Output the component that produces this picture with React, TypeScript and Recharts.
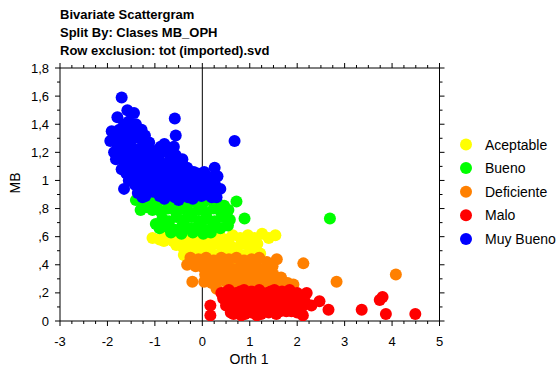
import React from 'react';
import { ScatterChart, Scatter, XAxis, YAxis, ReferenceLine } from 'recharts';

// Axis ticks
const xMajorTicks = [-3, -2, -1, 0, 1, 2, 3, 4, 5];
const xMinorTicks = [
  -2.75, -2.5, -2.25, -1.75, -1.5, -1.25, -0.75, -0.5, -0.25, 0.25, 0.5, 0.75,
  1.25, 1.5, 1.75, 2.25, 2.5, 2.75, 3.25, 3.5, 3.75, 4.25, 4.5, 4.75,
];
const yMajorTicks = [0, 0.2, 0.4, 0.6, 0.8, 1, 1.2, 1.4, 1.6, 1.8];
const yMinorTicks = [0.1, 0.3, 0.5, 0.7, 0.9, 1.1, 1.3, 1.5, 1.7];

const titleLines = ['Bivariate Scattergram', 'Split By: Clases MB_OPH', 'Row exclusion: tot (imported).svd'];

// Orth 1 / MB per class
const aceptable = [
  [-1.05, 0.59], [-0.9, 0.58], [-0.76, 0.6], [-0.62, 0.57], [-0.48, 0.6], [-0.34, 0.58], [-0.2, 0.6],
  [-0.06, 0.57], [0.08, 0.6], [0.22, 0.58], [0.36, 0.61], [0.5, 0.58], [0.64, 0.61], [0.8, 0.59],
  [0.96, 0.61], [1.1, 0.59], [1.26, 0.62], [1.54, 0.61], [1.4, 0.59],
  [-0.81, 0.57], [-0.55, 0.54], [-0.4, 0.52], [-0.26, 0.55], [-0.12, 0.52], [0.02, 0.54], [0.16, 0.52],
  [0.3, 0.55], [0.44, 0.52], [0.58, 0.54], [0.72, 0.52], [0.86, 0.55], [1.0, 0.53], [1.16, 0.55],
  [-0.39, 0.47], [-0.22, 0.48], [-0.06, 0.47], [0.1, 0.49], [0.26, 0.47], [0.42, 0.49], [0.58, 0.47],
  [0.74, 0.49], [0.9, 0.47], [1.06, 0.49], [1.22, 0.48],
  [0.0, 0.44], [0.34, 0.44], [0.66, 0.44], [0.98, 0.44],
];
const bueno = [
  [0.72, 0.85], [0.89, 0.73], [2.69, 0.73], [-1.05, 0.79], [-0.98, 0.69],
  [-1.4, 0.86], [-1.26, 0.84], [-1.12, 0.86], [-0.96, 0.83], [-0.8, 0.86], [-0.64, 0.84], [-0.48, 0.86],
  [-0.32, 0.83], [-0.16, 0.85], [0.0, 0.83], [0.16, 0.86], [0.32, 0.84], [0.46, 0.82],
  [-1.3, 0.79], [-1.16, 0.81], [-0.88, 0.78], [-0.72, 0.8], [-0.56, 0.78], [-0.4, 0.8], [-0.24, 0.77],
  [-0.08, 0.79], [0.08, 0.77], [0.24, 0.8], [0.4, 0.77], [0.55, 0.79],
  [-0.84, 0.73], [-0.7, 0.71], [-0.54, 0.74], [-0.38, 0.72], [-0.22, 0.74], [-0.06, 0.71], [0.1, 0.73],
  [0.26, 0.71], [0.42, 0.74], [0.58, 0.72],
  [-0.9, 0.66], [-0.74, 0.67], [-0.58, 0.65], [-0.42, 0.68], [-0.26, 0.66], [-0.1, 0.67], [0.06, 0.65],
  [0.22, 0.67], [0.38, 0.66], [0.54, 0.68],
  [-0.66, 0.63], [-0.44, 0.62], [-0.2, 0.63], [0.02, 0.62], [0.18, 0.63],
];
const muyBueno = [
  [-1.7, 1.59], [-1.58, 1.5], [-1.44, 1.48], [-1.79, 1.45], [-1.4, 1.4], [-1.91, 1.35], [-1.94, 1.28],
  [-1.86, 1.2], [-1.82, 1.15], [-1.65, 0.94], [-1.21, 1.32], [-0.58, 1.44], [-0.56, 1.32], [0.68, 1.28],
  [-0.88, 1.24], [-0.6, 1.24], [-0.32, 1.09], [0.26, 1.09], [0.38, 0.94], [0.1, 0.98],
  [-1.75, 1.36], [-1.62, 1.33], [-1.5, 1.37], [-1.33, 1.3], [-1.12, 1.27],
  [-1.8, 1.26], [-1.66, 1.24], [-1.52, 1.27], [-1.38, 1.22], [-1.24, 1.25], [-1.02, 1.21], [-0.74, 1.2],
  [-0.98, 1.14], [-1.72, 1.17], [-1.58, 1.14], [-1.45, 1.16], [-1.3, 1.13], [-1.15, 1.17], [-0.85, 1.12],
  [-0.68, 1.15], [-0.5, 1.12],
  [-1.7, 1.08], [-1.6, 1.05], [-1.48, 1.09], [-1.34, 1.05], [-1.2, 1.08], [-1.06, 1.05], [-0.92, 1.07],
  [-0.78, 1.04], [-0.62, 1.07], [-0.46, 1.03], [-0.18, 1.06], [-0.05, 1.03], [0.18, 1.02],
  [-1.55, 1.0], [-1.42, 0.97], [-1.26, 0.99], [-1.12, 0.96], [-0.98, 0.99], [-0.84, 0.96], [-0.7, 0.98],
  [-0.56, 0.95], [-0.4, 0.98], [-0.26, 0.96], [-0.12, 0.99], [0.02, 0.95], [0.22, 0.93], [-0.86, 1.0],
  [-1.36, 0.91], [-1.2, 0.89], [-1.04, 0.92], [-0.9, 0.89], [-0.74, 0.91], [-0.58, 0.88], [-0.44, 0.91],
  [-0.3, 0.88], [-0.16, 0.91], [-0.02, 0.89], [0.12, 0.9], [0.3, 0.88],
  [-1.85, 1.31], [-1.68, 1.29], [-1.44, 1.32], [-1.28, 1.36], [-1.55, 1.42], [-1.65, 1.4],
  [-1.76, 1.21], [-1.6, 1.19], [-1.47, 1.21], [-1.31, 1.19], [-1.17, 1.22], [-1.08, 1.16], [-0.92, 1.18],
  [-0.8, 1.26], [-0.66, 1.22], [-0.56, 1.18], [-0.42, 1.15],
  [-1.64, 1.11], [-1.52, 1.12], [-1.38, 1.1], [-1.24, 1.12], [-1.1, 1.1], [-0.96, 1.1], [-0.8, 1.09],
  [-0.7, 1.1], [-0.55, 1.08], [-0.38, 1.06], [-0.25, 1.02], [-0.1, 1.05], [0.04, 1.06],
  [-1.48, 1.03], [-1.34, 1.01], [-1.19, 1.03], [-1.04, 1.01], [-0.9, 1.03], [-0.74, 1.01], [-0.6, 1.02],
  [-0.48, 0.99], [-0.32, 1.0], [-0.18, 0.98], [0.08, 1.0], [0.26, 0.98], [0.32, 1.03],
  [-1.3, 0.95], [-1.16, 0.93], [-0.94, 0.94], [-0.78, 0.93], [-0.64, 0.94], [-0.48, 0.94], [-0.34, 0.93],
  [-0.2, 0.94], [-0.06, 0.93], [0.1, 0.94],
  [-1.26, 0.88], [-0.8, 0.87], [-0.5, 0.86], [-0.2, 0.87], [0.2, 0.88],
];
const deficiente = [
  [2.13, 0.41], [2.83, 0.28], [4.08, 0.33], [1.57, 0.44], [-0.21, 0.28], [-0.32, 0.4], [-0.25, 0.45],
  [-0.08, 0.44], [0.08, 0.45], [0.24, 0.43], [0.4, 0.45], [0.56, 0.44], [0.72, 0.45], [0.88, 0.43],
  [1.04, 0.44], [1.2, 0.45], [1.36, 0.42],
  [-0.14, 0.39], [0.02, 0.38], [0.18, 0.4], [0.34, 0.38], [0.5, 0.39], [0.66, 0.37], [0.82, 0.4],
  [0.98, 0.38], [1.14, 0.39], [1.3, 0.37], [1.48, 0.39],
  [0.06, 0.33], [0.22, 0.34], [0.38, 0.32], [0.54, 0.34], [0.7, 0.32], [0.86, 0.34], [1.02, 0.32],
  [1.18, 0.34], [1.34, 0.32], [1.5, 0.33], [1.66, 0.31],
  [0.04, 0.28], [0.2, 0.27], [0.36, 0.29], [0.52, 0.27], [0.68, 0.28], [0.84, 0.27], [1.0, 0.29],
  [1.16, 0.27], [1.32, 0.28], [1.48, 0.27], [1.64, 0.28], [1.8, 0.27], [1.92, 0.26],
  [0.3, 0.23], [0.6, 0.23], [0.9, 0.23], [1.2, 0.23], [1.5, 0.23],
];
const malo = [
  [0.17, 0.11], [0.17, 0.04], [2.66, 0.08], [3.36, 0.08], [3.74, 0.15], [3.8, 0.17], [3.87, 0.05],
  [4.49, 0.05], [2.47, 0.14], [2.2, 0.2], [1.77, 0.07], [2.12, 0.04], [0.6, 0.06], [1.15, 0.04],
  [0.4, 0.2], [0.56, 0.22], [0.72, 0.2], [0.88, 0.22], [1.04, 0.21], [1.2, 0.22], [1.36, 0.2],
  [1.52, 0.22], [1.68, 0.21], [1.84, 0.22], [2.0, 0.2],
  [0.44, 0.16], [0.6, 0.15], [0.76, 0.17], [0.92, 0.15], [1.08, 0.16], [1.24, 0.14], [1.4, 0.17],
  [1.56, 0.15], [1.72, 0.16], [1.88, 0.14], [2.04, 0.16],
  [0.5, 0.11], [0.66, 0.1], [0.82, 0.09], [0.98, 0.11], [1.14, 0.09], [1.3, 0.11], [1.46, 0.1],
  [1.62, 0.11], [1.78, 0.1], [1.94, 0.11], [2.1, 0.1], [2.3, 0.11],
  [0.74, 0.06], [0.9, 0.05], [1.04, 0.06], [1.24, 0.05], [1.4, 0.06], [1.56, 0.05], [2.0, 0.06],
  [0.48, 0.2], [0.64, 0.19], [0.8, 0.21], [0.96, 0.19], [1.12, 0.2], [1.28, 0.19], [1.44, 0.21],
  [1.6, 0.19], [1.76, 0.2], [1.92, 0.19],
  [0.52, 0.14], [0.68, 0.13], [0.84, 0.13], [1.0, 0.14], [1.16, 0.13], [1.32, 0.14], [1.48, 0.13],
  [1.64, 0.14], [1.8, 0.13], [1.96, 0.14], [2.16, 0.14],
  [0.82, 0.04], [0.98, 0.07], [1.32, 0.08], [1.48, 0.08], [1.64, 0.07], [1.88, 0.07], [0.66, 0.05],
];

const groups = [
  { name: 'Aceptable', color: '#ffff00', points: aceptable },
  { name: 'Bueno', color: '#00ff00', points: bueno },
  { name: 'Deficiente', color: '#ff8000', points: deficiente },
  { name: 'Malo', color: '#ff0000', points: malo },
  { name: 'Muy Bueno', color: '#0000ff', points: muyBueno },
];
// yellow, green, blue, orange, red on top
const drawOrder = ['Aceptable', 'Bueno', 'Muy Bueno', 'Deficiente', 'Malo'];

const font = '"Liberation Sans", Arial, sans-serif';
const xTicks = [...xMajorTicks, ...xMinorTicks].sort((a, b) => a - b);
const yTicks = [...yMajorTicks, ...yMinorTicks].sort((a, b) => a - b);

const fmtY = (v: number) => {
  if (v === 0) return '0';
  const s = String(v).replace('.', ',');
  return v < 1 ? s.slice(1) : s;
};

const near = (list: number[], v: number) => list.some((t) => Math.abs(t - v) < 1e-6);

const BottomTick = ({ x, y, payload }: any) => {
  const major = near(xMajorTicks, payload.value);
  return (
    <g>
      <line x1={x} x2={x} y1={y} y2={y + (major ? 5 : 3)} stroke="#000" />
      {major && (
        <text x={x} y={y + 25} textAnchor="middle" fontSize={13} fontFamily={font} fill="#000">
          {payload.value}
        </text>
      )}
    </g>
  );
};

const TopTick = ({ x, y, payload }: any) => {
  const major = near(xMajorTicks, payload.value);
  return <line x1={x} x2={x} y1={y} y2={y - (major ? 5 : 3)} stroke="#000" />;
};

const LeftTick = ({ x, y, payload }: any) => {
  const major = near(yMajorTicks, payload.value);
  return (
    <g>
      <line x1={x} x2={x - (major ? 5 : 3)} y1={y} y2={y} stroke="#000" />
      {major && (
        <text x={x - 11} y={y + 4.5} textAnchor="end" fontSize={13} fontFamily={font} fill="#000">
          {fmtY(payload.value)}
        </text>
      )}
    </g>
  );
};

const RightTick = ({ x, y, payload }: any) => {
  const major = near(yMajorTicks, payload.value);
  return <line x1={x} x2={x + (major ? 5 : 3)} y1={y} y2={y} stroke="#000" />;
};

export default function App() {
  return (
    <div style={{ position: 'absolute', left: 0, top: 0, width: 558, height: 369, background: '#fff' }}>
      <ScatterChart width={558} height={369} margin={{ top: 67, right: 117.5, bottom: 0, left: 0 }}>
        <XAxis xAxisId="bottom" dataKey="x" type="number" domain={[-3, 5]} ticks={xTicks} interval={0}
          tickSize={0} tickMargin={0} tick={BottomTick} height={48} axisLine={{ stroke: '#000' }}
          allowDataOverflow />
        <XAxis xAxisId="top" orientation="top" dataKey="x" type="number" domain={[-3, 5]} ticks={xTicks}
          interval={0} tickSize={0} tickMargin={0} tick={TopTick} height={1} axisLine={{ stroke: '#000' }}
          allowDataOverflow />
        <YAxis yAxisId="left" dataKey="y" type="number" domain={[0, 1.8]} ticks={yTicks} interval={0}
          tickSize={0} tickMargin={0} tick={LeftTick} width={60} axisLine={{ stroke: '#000' }}
          allowDataOverflow />
        <YAxis yAxisId="right" orientation="right" dataKey="y" type="number" domain={[0, 1.8]} ticks={yTicks}
          interval={0} tickSize={0} tickMargin={0} tick={RightTick} width={1} axisLine={{ stroke: '#000' }}
          allowDataOverflow />
        <ReferenceLine x={0} xAxisId="bottom" yAxisId="left" stroke="#000" />
        {drawOrder.map((name) => {
          const g = groups.find((gr) => gr.name === name)!;
          return (
            <Scatter
              key={name}
              name={name}
              xAxisId="bottom"
              yAxisId="left"
              data={g.points.map(([x, y]) => ({ x, y }))}
              isAnimationActive={false}
              shape={(p: any) => <circle cx={p.cx} cy={p.cy} r={6} fill={g.color} />}
            />
          );
        })}
      </ScatterChart>
      <svg width={558} height={369} style={{ position: 'absolute', left: 0, top: 0, pointerEvents: 'none' }}>
        {titleLines.map((t, i) => (
          <text key={t} x={60} y={19 + i * 18} fontSize={13} fontWeight="bold" fontFamily={font} fill="#000">
            {t}
          </text>
        ))}
        <text x={249} y={364} textAnchor="middle" fontSize={14} fontFamily={font} fill="#000">Orth 1</text>
        <text x={20} y={183} textAnchor="middle" fontSize={14} fontFamily={font} fill="#000"
          transform="rotate(-90 20 183)">MB</text>
        {groups.map((g, i) => {
          const cy = 144.5 + i * 23.6;
          return (
            <g key={g.name}>
              <circle cx={466} cy={cy} r={6} fill={g.color} />
              <text x={485} y={cy + 5} fontSize={14} fontFamily={font} fill="#000">{g.name}</text>
            </g>
          );
        })}
      </svg>
    </div>
  );
}
